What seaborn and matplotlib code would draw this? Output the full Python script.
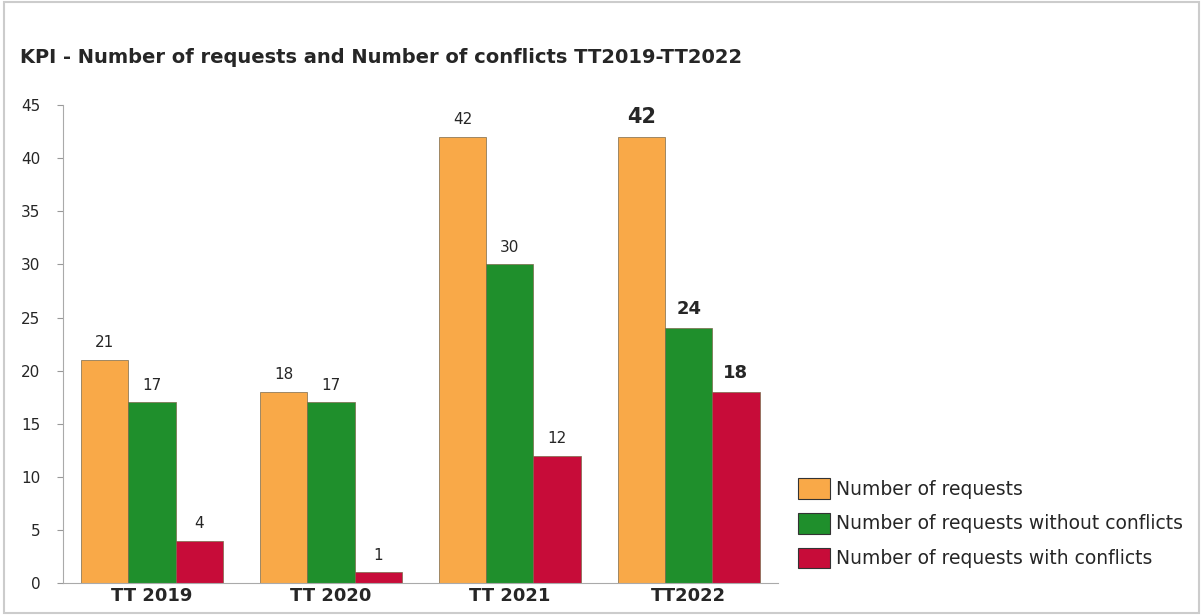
import matplotlib
matplotlib.use("Agg")
import matplotlib.pyplot as plt
import matplotlib.patches as mpatches
import seaborn as sns
import pandas as pd

years = ['TT 2019', 'TT 2020', 'TT 2021', 'TT2022']
requests = [21, 18, 42, 42]
without_conflicts = [17, 17, 30, 24]
with_conflicts = [4, 1, 12, 18]
series = ['Number of requests', 'Number of requests without conflicts',
          'Number of requests with conflicts']
colors = ['#F9A948', '#1F8F2C', '#C70C39']

rows = []
for name, vals in zip(series, [requests, without_conflicts, with_conflicts]):
    for y, v in zip(years, vals):
        rows.append({'year': y, 'series': name, 'value': v})
df = pd.DataFrame(rows)

sns.set_style('white')
plt.rcParams['font.family'] = ['DejaVu Sans']
fig = plt.figure(figsize=(12.03, 6.15), dpi=100)
ax = fig.add_axes([0.052, 0.052, 0.595, 0.777])

sns.barplot(data=df, x='year', y='value', hue='series', palette=colors,
            width=0.79, saturation=1, edgecolor='#7a6a4a', linewidth=0.5,
            legend=False, ax=ax)

ax.set_xlim(-0.5, 3.5)
ax.set_ylim(0, 45)
ax.set_yticks(range(0, 46, 5))
ax.set_xlabel('')
ax.set_ylabel('')
ax.tick_params(axis='y', labelsize=11, length=4, color='#999999', left=True, pad=12)
ax.tick_params(axis='x', length=0, pad=3)
for lbl in ax.get_xticklabels():
    lbl.set_fontweight('bold')
    lbl.set_fontsize(13)
for s in ['top', 'right']:
    ax.spines[s].set_visible(False)
ax.spines['left'].set_color('#aaaaaa')
ax.spines['bottom'].set_color('#aaaaaa')

# value labels; last group in bold
for container in ax.containers:
    for i, bar in enumerate(container):
        v = bar.get_height()
        x = bar.get_x() + bar.get_width() / 2
        if i == 3:
            size = 15 if v == 42 else 13
            ax.annotate(f'{int(v)}', (x, v), xytext=(0, 7), textcoords='offset points',
                        ha='center', va='bottom', fontsize=size, fontweight='bold')
        else:
            ax.annotate(f'{int(v)}', (x, v), xytext=(0, 7), textcoords='offset points',
                        ha='center', va='bottom', fontsize=11)

handles = [mpatches.Patch(facecolor=c, edgecolor='#333333', linewidth=0.8, label=n)
           for c, n in zip(colors, series)]
fig.legend(handles=handles, loc='upper left', bbox_to_anchor=(0.663, 0.223),
           frameon=False, fontsize=13.5, handlelength=1.75, handleheight=1.33,
           handletextpad=0.3, labelspacing=0.75, borderpad=0, borderaxespad=0)

fig.text(0.017, 0.907, 'KPI - Number of requests and Number of conflicts TT2019-TT2022',
         fontsize=14, fontweight='bold', ha='left', va='center')

border = mpatches.Rectangle((0.003, 0.003), 0.994, 0.994, transform=fig.transFigure,
                            fill=False, edgecolor='#cccccc', linewidth=1.5)
fig.patches.append(border)

fig.savefig('out.png', dpi=100)
